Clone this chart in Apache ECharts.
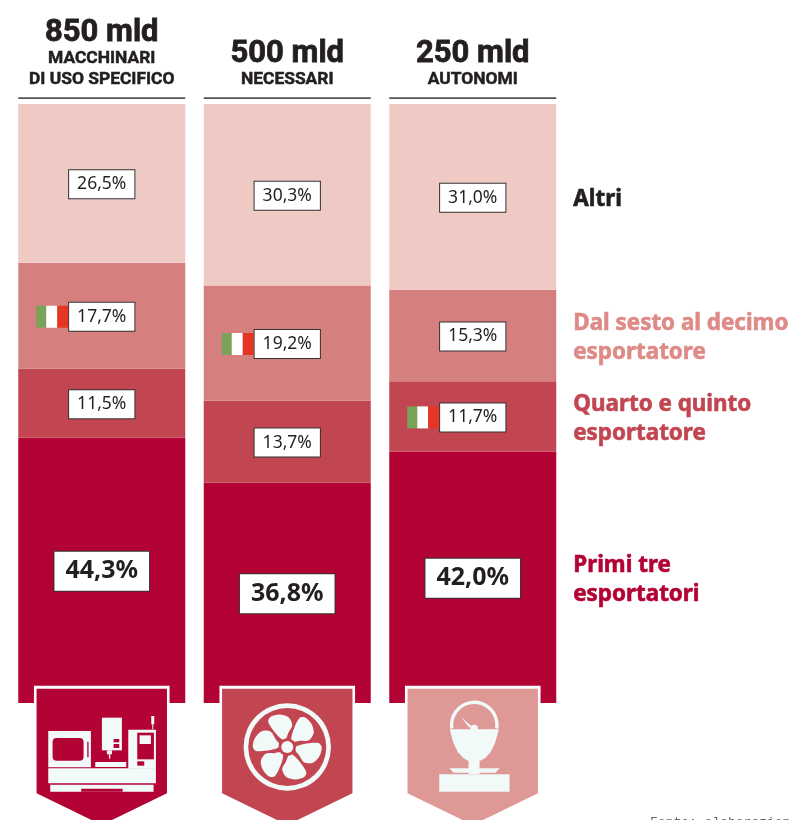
<!DOCTYPE html>
<html>
<head>
<meta charset="utf-8">
<style>
  html, body { margin: 0; padding: 0; background: #fff; overflow: hidden; }
  #chart { width: 792px; height: 820px; }
</style>
</head>
<body>
<div id="chart"></div>
<script src="https://cdn.jsdelivr.net/npm/echarts@6/dist/echarts.min.js"></script>
<script>
  const totals = ['850 mld', '500 mld', '250 mld'];
  const categories = ['MACCHINARI\nDI USO SPECIFICO', 'NECESSARI', 'AUTONOMI'];
  const primi = [44.3, 36.8, 42.0];
  const quarto = [11.5, 13.7, 11.7];
  const sesto = [17.7, 19.2, 15.3];
  const altri = [26.5, 30.3, 31.0];
  const rowNames = ['Primi tre\nesportatori', 'Quarto e quinto\nesportatore', 'Dal sesto al decimo\nesportatore', 'Altri'];
  // which row holds the italian flag, per column
  const italyRow = [2, 2, 1];

  const rows = [primi, quarto, sesto, altri];
  const rowColors = ['#b30335', '#c24651', '#d5807e', '#efc9c4'];
  const nameColors = ['#b30335', '#c24651', '#de8a87', '#231f20'];
  const shieldColors = ['#b30335', '#c24651', '#de9996'];
  const iconColor = '#f2f9f9';
  const BAR_W = 167;

  function pct(v) {
    return v.toFixed(1).replace('.', ',') + '%';
  }

  // middle of a stacked segment, in axis units
  function midOf(row, col) {
    let sum = 0;
    for (let r = 0; r < row; r++) sum += rows[r][col];
    return sum + rows[row][col] / 2;
  }

  function machineIcon(cx, base, fill) {
    const r = (x0, y0, x1, y1, c) => ({
      type: 'rect',
      shape: { x: cx + (x0 - 304.5) / 3, y: base - 33 + y0 / 3, width: (x1 - x0) / 3, height: (y1 - y0) / 3 },
      style: { fill: c || iconColor }
    });
    const window = r(157, 204, 250, 272, fill);
    window.shape.r = 4;
    return [
      r(144, 183, 272, 292), window, r(261, 215, 265, 262, fill),
      r(305, 143, 365, 241), r(340, 207, 357, 217, fill), r(340, 222, 357, 234, fill),
      r(320, 241, 335, 253), r(326, 253, 330, 266),
      r(285, 276, 378, 291),
      r(384, 179, 467, 296), r(144, 295, 467, 340),
      r(411, 188, 461, 268, fill), r(418, 196, 452, 222), r(411, 274, 432, 287, fill),
      r(150, 344, 460, 365), r(243, 356, 367, 365, fill),
      r(453, 138, 462, 163), r(456, 163, 459, 178)
    ];
  }

  function fanIcon(cx, base, fill) {
    const cy = base + 44;
    const blade = [[-4, -7], [-11, -13], [-19, -25], [-17, -30], [-8, -32.5], [1, -30], [5, -22], [1, -14], [-1, -9]];
    const els = [{
      type: 'ring',
      shape: { cx: cx, cy: cy, r: 43.7, r0: 39 },
      style: { fill: iconColor }
    }];
    for (let k = 0; k < 6; k++) {
      const a = k * Math.PI / 3;
      els.push({
        type: 'polygon',
        shape: {
          smooth: 0.3,
          points: blade.map(p => [
            cx + p[0] * Math.cos(a) - p[1] * Math.sin(a),
            cy + p[0] * Math.sin(a) + p[1] * Math.cos(a)
          ])
        },
        style: { fill: iconColor }
      });
    }
    els.push({ type: 'circle', shape: { cx: cx, cy: cy, r: 8.7 }, style: { fill: fill } });
    els.push({ type: 'circle', shape: { cx: cx, cy: cy, r: 6 }, style: { fill: iconColor } });
    return els;
  }

  function scaleIcon(cx, base, fill) {
    const p = (x, y) => [cx + (x - 247.5) / 3, base - 33 + y / 3];
    const poly = pts => ({ type: 'polygon', shape: { points: pts.map(a => p(a[0], a[1])) }, style: { fill: iconColor } });
    const head = p(252, 165);
    const hub = p(252, 175);
    return [
      {
        type: 'arc',
        shape: { cx: head[0], cy: head[1], r: 22.7, startAngle: Math.PI * 0.95, endAngle: Math.PI * 2.05 },
        style: { fill: null, stroke: iconColor, lineWidth: 3.4 }
      },
      poly([[179, 178], [325, 178], [322, 192], [314, 220], [301, 247], [284, 265], [268, 273], [268, 312], [235, 312], [235, 273], [220, 265], [203, 247], [190, 220], [182, 192]]),
      { type: 'circle', shape: { cx: hub[0], cy: hub[1], r: 3.7 }, style: { fill: iconColor } },
      poly([[212, 141], [243, 168], [238, 174]]),
      poly([[177, 295], [328, 295], [315, 308], [190, 308]]),
      poly([[147, 313], [358, 313], [358, 365], [147, 365]])
    ];
  }

  const iconMakers = [machineIcon, fanIcon, scaleIcon];

  // header rule above each bar, plus the shield with its icon under it
  function renderColumnDeco(params, api) {
    const i = params.dataIndex;
    const top = api.coord([i, 100]);
    const bottom = api.coord([i, 0]);
    const cx = top[0];
    const fill = shieldColors[i];
    const base = bottom[1];
    return {
      type: 'group',
      children: [
        {
          type: 'rect',
          shape: { x: cx - BAR_W / 2, y: top[1] - 6.7, width: BAR_W, height: 1.7 },
          style: { fill: '#555' }
        },
        {
          type: 'rect',
          shape: { x: cx - 67.8, y: base - 17.3, width: 135.6, height: 17.3 },
          style: { fill: '#fff' }
        },
        {
          type: 'polygon',
          shape: {
            points: [
              [cx - 65.2, base - 14.3], [cx + 65.2, base - 14.3], [cx + 65.2, base + 90.3],
              [cx, base + 122], [cx - 65.2, base + 90.3]
            ]
          },
          style: { fill: fill }
        }
      ].concat(iconMakers[i](cx, base, fill))
    };
  }

  function renderFlag(params, api) {
    const i = params.dataIndex;
    const c = api.coord([i, midOf(italyRow[i], i)]);
    const right = c[0] - 33.5;
    const y = c[1] - 10;
    const part = (x, w, col) => ({
      type: 'rect',
      shape: { x: x, y: y, width: w, height: 22 },
      style: { fill: col }
    });
    return {
      type: 'group',
      children: [part(right - 32, 10, '#7aa35a'), part(right - 22, 11, '#ffffff'), part(right - 11, 11, '#e53525')]
    };
  }

  function renderRowName(params, api) {
    const r = params.dataIndex;
    const c = api.coord([2, midOf(r, 2)]);
    return {
      type: 'text',
      style: {
        text: rowNames[r],
        x: c[0] + BAR_W / 2 + 17,
        y: c[1] + 3,
        fill: nameColors[r],
        stroke: nameColors[r],
        lineWidth: 0.6,
        font: 'bold 22.4px "Noto Sans", sans-serif',
        lineHeight: 29,
        textAlign: 'left',
        textVerticalAlign: 'middle'
      }
    };
  }

  const barSeries = rows.map((vals, r) => ({
    type: 'bar',
    stack: 'tot',
    barWidth: BAR_W,
    data: vals,
    z: 2,
    itemStyle: { color: rowColors[r] },
    label: {
      show: true,
      position: 'inside',
      offset: [0, 1],
      formatter: p => pct(p.value),
      color: '#231f20',
      fontFamily: '"Noto Sans", sans-serif',
      fontSize: r === 0 ? 25 : 17.5,
      fontWeight: r === 0 ? 'bold' : 'normal',
      backgroundColor: '#fff',
      borderColor: '#333',
      borderWidth: 1,
      padding: r === 0 ? [7, 11, 7, 11] : [5, 8, 5, 8]
    }
  }));

  const headFont = { fontFamily: 'Roboto, sans-serif', fontWeight: 'bold', color: '#231f20', textBorderColor: '#231f20' };

  const option = {
    animation: false,
    backgroundColor: '#fff',
    grid: { left: 9, top: 104, width: 556.5, height: 599 },
    xAxis: {
      type: 'category',
      position: 'top',
      data: categories,
      axisLine: { show: false },
      axisTick: { show: false },
      axisLabel: {
        interval: 0,
        margin: 14,
        color: '#231f20',
        formatter: (v, i) => '{big|' + totals[i] + '}\n' + v.split('\n').map(s => '{small|' + s + '}').join('\n'),
        rich: {
          big: Object.assign({ fontSize: 31, lineHeight: 29, textBorderWidth: 0.8 }, headFont),
          small: Object.assign({ fontSize: 17.4, lineHeight: 21, textBorderWidth: 0.5 }, headFont)
        }
      }
    },
    yAxis: { type: 'value', min: 0, max: 100, show: false },
    series: barSeries.concat([
      {
        type: 'custom',
        renderItem: renderColumnDeco,
        data: [[0, 0], [1, 0], [2, 0]],
        z: 3,
        silent: true
      },
      {
        type: 'custom',
        renderItem: renderFlag,
        data: [[0, 0], [1, 0], [2, 0]],
        z: 3,
        silent: true
      },
      {
        type: 'custom',
        renderItem: renderRowName,
        data: [[2, 0], [2, 0], [2, 0], [2, 0]],
        z: 3,
        silent: true
      }
    ]),
    graphic: [{
      type: 'text',
      left: 650,
      top: 816,
      silent: true,
      style: { text: 'Fonte: elaborazion', fill: '#666', font: '13px "Liberation Mono", monospace' }
    }]
  };

  const chart = echarts.init(document.getElementById('chart'), null, { renderer: 'canvas' });
  chart.setOption(option);
</script>
</body>
</html>
